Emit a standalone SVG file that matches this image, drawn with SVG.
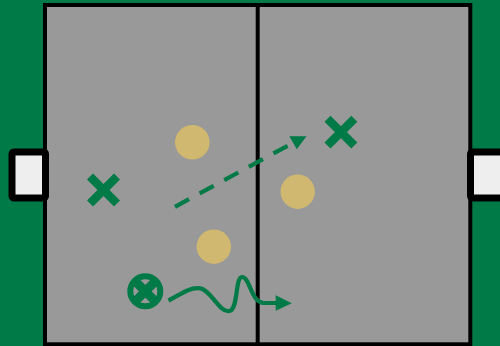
<svg xmlns="http://www.w3.org/2000/svg" width="500" height="346" viewBox="0 0 500 346">
  <style>
    .goal { fill: #eeeeee; stroke: #000000; stroke-width: 7; stroke-linejoin: round; }
    .ball { fill: #d1b870; }
    .mark { stroke: #007a47; stroke-width: 8.5; fill: none; }
    .conn { stroke: #007a47; stroke-width: 4.2; fill: none; }
    .head { fill: #007a47; }
  </style>
  <rect x="0" y="0" width="500" height="346" fill="#007a47"/>
  <g id="field">
    <rect x="45" y="5" width="425.3" height="339.3" fill="#999999" stroke="#000000" stroke-width="4"/>
    <line x1="257.7" y1="5" x2="257.7" y2="344" stroke="#000000" stroke-width="4"/>
  </g>
  <g id="goal-left">
    <rect class="goal" x="12" y="152" width="33.5" height="46" rx="2"/>
  </g>
  <g id="goal-right">
    <rect class="goal" x="470.5" y="152" width="40" height="46" rx="2"/>
  </g>
  <g id="ball-1"><circle class="ball" cx="192.3" cy="142.3" r="17.3"/></g>
  <g id="ball-2"><circle class="ball" cx="297.7" cy="191.7" r="17.2"/></g>
  <g id="ball-3"><circle class="ball" cx="213.8" cy="246.7" r="17.2"/></g>
  <g id="player-x-left">
    <path class="mark" d="M90,176.5 L117,203.5 M117,176.5 L90,203.5"/>
  </g>
  <g id="player-x-right">
    <path class="mark" d="M327.5,118.7 L354.3,145.5 M354.3,118.7 L327.5,145.5"/>
  </g>
  <g id="player-ball">
    <circle cx="145.3" cy="291.3" r="15" fill="none" stroke="#007a47" stroke-width="6"/>
    <path d="M134.5,280.5 L156.1,302.1 M156.1,280.5 L134.5,302.1" stroke="#007a47" stroke-width="9"/>
  </g>
  <g id="connectors">
    <line class="conn" x1="175" y1="206.8" x2="288.5" y2="145.3" stroke-width="4.5" stroke-dasharray="16 12"/>
    <polygon class="head" points="289.3,136.2 306.5,136.2 296.8,149.3"/>
    <path class="conn" d="M168.5,300.5 C178,296 188,287.5 199,288.2 C211,289 219,313 229.5,311 C238.5,309 235,277 242,277 C250,277 251,303 264,303 L277,303"/>
    <polygon class="head" points="275.7,295.3 291.8,303.3 275.7,310.8"/>
  </g>
</svg>
